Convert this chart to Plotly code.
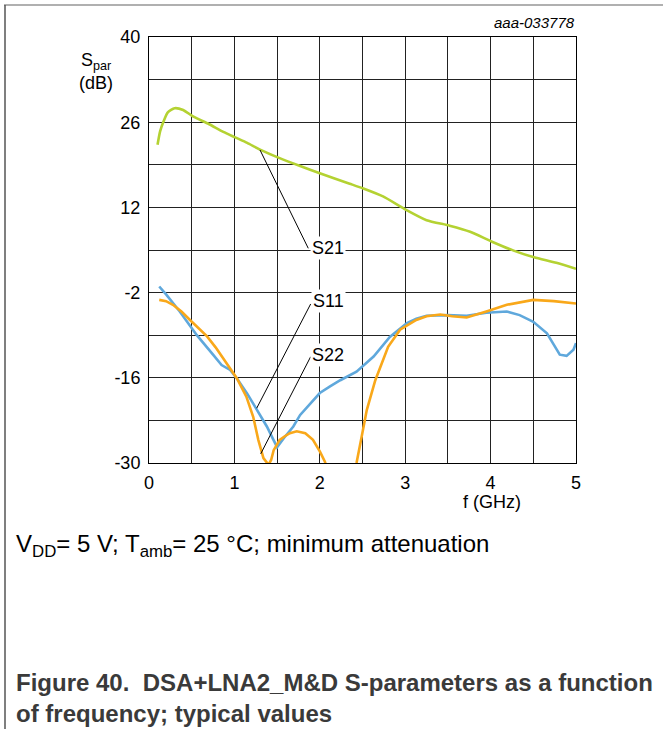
import plotly.graph_objects as go

# ---- data ----
f_s21 = [0.10, 0.13, 0.17, 0.22, 0.30, 0.40, 0.52, 0.70, 0.87, 1.01, 1.15, 1.30, 1.53, 1.77,
         2.00, 2.35, 2.51, 2.74, 3.01, 3.25, 3.52, 3.76, 4.01, 4.27, 4.51, 4.77, 5.00]
s21 = [22.3, 24.5, 26.1, 27.6, 28.3, 28.0, 26.9, 25.7, 24.4, 23.5, 22.6, 21.5, 20.1, 18.8,
       17.6, 15.9, 15.1, 13.8, 11.6, 9.9, 9.0, 8.0, 6.4, 4.9, 3.8, 2.9, 1.9]

f_s11 = [0.12, 0.20, 0.36, 0.56, 0.75, 0.85, 0.95, 1.03, 1.15, 1.26, 1.38, 1.45, 1.50, 1.58,
         1.69, 1.77, 1.89, 2.00, 2.12, 2.24, 2.43, 2.63, 2.82, 3.02, 3.13, 3.25, 3.49, 3.72,
         3.95, 4.19, 4.34, 4.50, 4.66, 4.81, 4.89, 4.97, 5.00]
s11 = [-1.0, -2.3, -5.1, -9.0, -12.2, -13.9, -14.7, -16.1, -18.6, -21.3, -24.0, -26.0, -27.4, -25.9,
       -24.0, -22.1, -20.2, -18.5, -17.4, -16.4, -15.0, -12.5, -9.3, -7.0, -6.3, -5.8, -5.7, -5.8,
       -5.3, -5.1, -5.7, -6.8, -8.7, -12.2, -12.4, -11.4, -10.3]

f_s22 = [0.12, 0.20, 0.28, 0.38, 0.48, 0.58, 0.68, 0.78, 0.87, 0.95, 1.03, 1.14, 1.22, 1.28,
         1.34, 1.40, 1.43, 1.46, 1.53, 1.59, 1.65, 1.73, 1.83, 1.92, 2.00, 2.06, 2.10,
         2.40, 2.43, 2.49, 2.55, 2.65, 2.80, 2.94, 3.13, 3.25, 3.41, 3.55, 3.72, 3.95,
         4.19, 4.50, 4.74, 5.00]
s22 = [-3.2, -3.4, -4.0, -5.1, -6.5, -7.8, -9.2, -11.0, -12.8, -14.5, -16.1, -19.1, -22.4, -26.2,
       -29.2, -30.3, -29.5, -27.9, -26.2, -25.6, -25.1, -24.8, -25.1, -26.2, -28.1, -29.8, -31.5,
       -31.5, -30.0, -25.7, -21.3, -16.4, -10.9, -8.1, -6.5, -5.9, -5.6, -5.9, -6.1, -5.1,
       -4.0, -3.2, -3.4, -3.8]

x_ticks = [0, 1, 2, 3, 4, 5]
x_tick_text = ["0", "1", "2", "3", "4", "5"]
x_minor = [0.5, 1.5, 2.5, 3.5, 4.5]
y_ticks = [-30, -16, -2, 12, 26, 40]
y_tick_text = ["-30", "-16", "-2", "12", "26", "40"]
y_minor = [-23, -9, 5, 19, 33]

FONT = "Liberation Sans, Arial, sans-serif"

fig = go.Figure()
fig.add_trace(go.Scatter(x=f_s21, y=s21, mode="lines", line=dict(color="#b4d232", width=2.6,
                                                                   shape="spline", smoothing=0.6)))
fig.add_trace(go.Scatter(x=f_s11, y=s11, mode="lines", line=dict(color="#5fa8dc", width=2.6)))
fig.add_trace(go.Scatter(x=f_s22, y=s22, mode="lines", line=dict(color="#f9a81a", width=2.6)))

# leader lines
leaders = [((1.30, 21.43), (1.865, 5.28)),
           ((1.261, -21.0), (1.893, -3.87)),
           ((1.308, -28.5), (1.893, -12.53))]
for (x0, y0), (x1, y1) in leaders:
    fig.add_shape(type="line", x0=x0, y0=y0, x1=x1, y1=y1, xref="x", yref="y",
                  line=dict(color="black", width=1))

labels = [("S21", 5.3), ("S11", -3.4), ("S22", -12.25)]
for txt, yv in labels:
    fig.add_annotation(x=2.096, y=yv, xref="x", yref="y", text=txt, showarrow=False,
                       xanchor="center", yanchor="middle",
                       font=dict(family=FONT, size=18, color="black"), bgcolor="white",
                       borderpad=1)

def px_x(px):
    return (px - 149) / 427.0

def px_y(py):
    return (463 - py) / 426.0

# axis titles / notes
fig.add_annotation(x=px_x(115), y=px_y(72), xref="paper", yref="paper", xanchor="right",
                   yanchor="middle", align="center", showarrow=False,
                   text="S<sub>par</sub><br>(dB)", font=dict(family=FONT, size=18, color="black"))
fig.add_annotation(x=px_x(492), y=px_y(502), xref="paper", yref="paper", showarrow=False,
                   xanchor="center", yanchor="middle",
                   text="f (GHz)", font=dict(family=FONT, size=18, color="black"))
fig.add_annotation(x=px_x(577), y=px_y(22), xref="paper", yref="paper", xanchor="right",
                   yanchor="middle", showarrow=False, text="<i>aaa-033778</i>",
                   font=dict(family=FONT, size=15, color="black"))
fig.add_annotation(x=px_x(14), y=px_y(545), xref="paper", yref="paper", xanchor="left",
                   yanchor="middle", showarrow=False,
                   text="V<sub>DD</sub>= 5 V; T<sub>amb</sub>= 25 °C; minimum attenuation",
                   font=dict(family=FONT, size=24, color="black"))
fig.add_annotation(x=px_x(14), y=px_y(698), xref="paper", yref="paper", xanchor="left",
                   yanchor="middle", align="left", showarrow=False,
                   text="<b>Figure 40.  DSA+LNA2_M&amp;D S-parameters as a function<br>"
                        "of frequency; typical values</b>",
                   font=dict(family=FONT, size=24, color="#3a3a3a"))

# page frame
fig.add_shape(type="line", xref="paper", yref="paper", x0=px_x(4), x1=px_x(663),
              y0=px_y(5), y1=px_y(5), line=dict(color="#b0b0b0", width=2))
fig.add_shape(type="line", xref="paper", yref="paper", x0=px_x(5), x1=px_x(5),
              y0=px_y(5), y1=px_y(729), line=dict(color="#555555", width=1.5))

fig.update_layout(
    width=663, height=729, showlegend=False,
    margin=dict(l=149, r=87, t=37, b=266),
    paper_bgcolor="white", plot_bgcolor="white",
    xaxis=dict(range=[0, 5], tickmode="array", tickvals=x_ticks, ticktext=x_tick_text, ticks="",
               showline=True, mirror=True, linecolor="black", linewidth=1, zeroline=False,
               showgrid=True, gridcolor="#222222", gridwidth=1,
               tickfont=dict(family=FONT, size=18, color="black"), ticklabelstandoff=3,
               minor=dict(tickvals=x_minor, showgrid=True, gridcolor="#222222", gridwidth=1)),
    yaxis=dict(range=[-30, 40], tickmode="array", tickvals=y_ticks, ticktext=y_tick_text, ticks="",
               showline=True, mirror=True, linecolor="black", linewidth=1, zeroline=False,
               showgrid=True, gridcolor="#222222", gridwidth=1,
               tickfont=dict(family=FONT, size=18, color="black"), ticklabelstandoff=4,
               minor=dict(tickvals=y_minor, showgrid=True, gridcolor="#222222", gridwidth=1)),
)

fig.write_html("out.html", config={"displayModeBar": False},
               post_script="document.body.style.margin='0px';")
